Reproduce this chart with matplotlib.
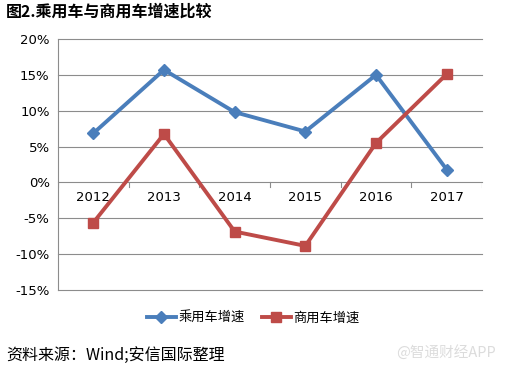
import numpy as np
import matplotlib.pyplot as plt

plt.rcParams['font.family'] = ['Noto Sans CJK SC', 'DejaVu Sans']

# --- Data ---
years = ["2012", "2013", "2014", "2015", "2016", "2017"]
passenger = [6.85, 15.7, 9.8, 7.1, 15.0, 1.8]      # 乘用车增速 (%)
commercial = [-5.6, 6.75, -6.85, -8.85, 5.5, 15.1]  # 商用车增速 (%)
y_ticks = [-15, -10, -5, 0, 5, 10, 15, 20]

BLUE = "#4a7ebb"
RED = "#be4b48"
GRID = "#8c8c8c"

fig = plt.figure(figsize=(5.06, 3.71), dpi=100)
ax = fig.add_axes([58 / 506, 1 - 290 / 371, 424 / 506, 251 / 371])

x = np.arange(len(years))
ax.plot(x, passenger, color=BLUE, lw=2.8, marker="D", ms=6.5, label="乘用车增速")
ax.plot(x, commercial, color=RED, lw=2.8, marker="s", ms=7, label="商用车增速")

ax.set_xlim(-0.5, len(years) - 0.5)
ax.set_ylim(-15, 20)
ax.set_yticks(y_ticks)
ax.set_yticklabels([f"{v}%" for v in y_ticks], fontsize=9.5, family=["DejaVu Sans"])
ax.tick_params(axis="y", length=0, pad=6)
# horizontal gridlines, drawn unclipped so the -15% line shows
for v in y_ticks:
    ax.axhline(v, color=GRID, lw=0.8, zorder=0, clip_on=False)

# category axis sits on the 0% line
ax.set_xticks([])
for b in np.arange(-0.5, len(years), 1.0):
    ax.plot([b, b], [0, -0.7], color=GRID, lw=0.8, zorder=1)
for xi, lab in zip(x, years):
    ax.text(xi, -1.2, lab, ha="center", va="top", fontsize=9.5, family=["DejaVu Sans"])

for s in ["top", "right", "bottom"]:
    ax.spines[s].set_visible(False)
ax.spines["left"].set_color(GRID)

fig.legend(loc="center", bbox_to_anchor=(0.5, 1 - 318 / 371), ncol=2,
           frameon=False, fontsize=9.5, handlelength=2.2, columnspacing=1.3,
           handletextpad=0.2)

fig.text(0.012, 1 - 12 / 371, "图2.乘用车与商用车增速比较", fontsize=11.5,
         fontweight="bold", va="center", ha="left")
fig.text(0.012, 1 - 355 / 371, "资料来源：Wind;安信国际整理", fontsize=11.5,
         va="center", ha="left")
fig.text(0.98, 1 - 352 / 371, "@智通财经APP", fontsize=10.5, color="#dcdcdc",
         va="center", ha="right")

fig.savefig("out.png", dpi=100)
